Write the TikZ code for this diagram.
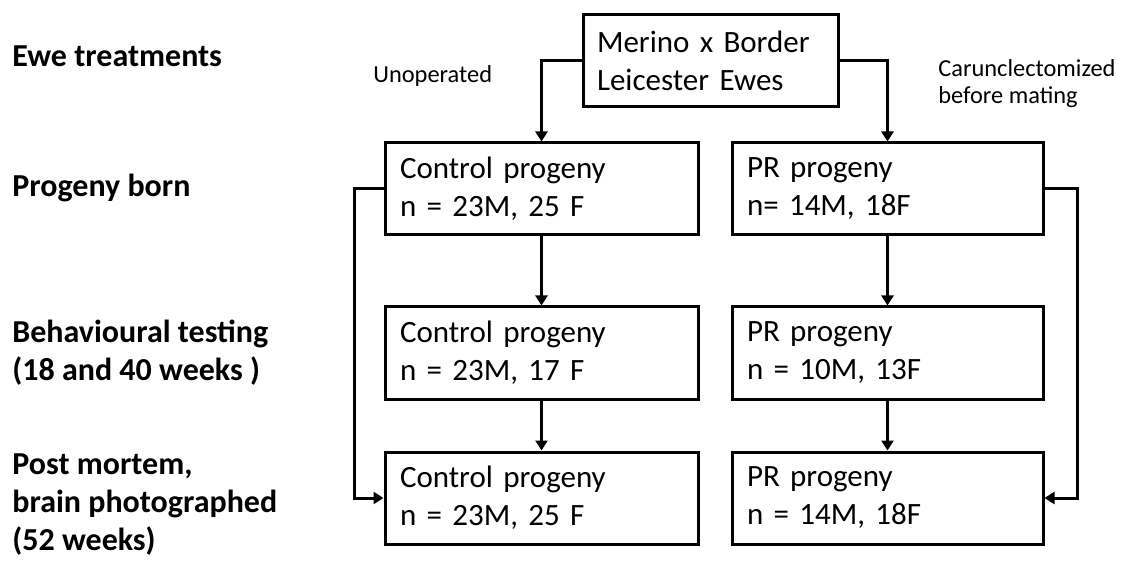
\documentclass[tikz,border=0pt]{standalone}
\usepackage{fontspec}
\setmainfont{Carlito}
\usetikzlibrary{arrows.meta}
\begin{document}
\begin{tikzpicture}[x=0.5pt,y=-0.5pt,
  box/.style={draw,line width=1.5pt,align=left,text width=#1,inner xsep=7.5pt,inner ysep=0pt,minimum height=46pt,font=\fontsize{15.5}{19}\selectfont},
  lab/.style={anchor=base west,align=left,inner sep=0pt,font=\bfseries\fontsize{16}{19}\selectfont},
  small/.style={anchor=base west,align=left,inner sep=0pt,font=\fontsize{12.2}{13.5}\selectfont},
  arr/.style={line width=1.5pt,-{Triangle[width=6pt,length=5pt]}}
]
\useasboundingbox (0,0) rectangle (1125,561);
% boxes
\node[box=113.5pt,inner xsep=7pt] (top) at (710.5,60.5) {Merino x Border\\Leicester Ewes};
\node[box=141.5pt] (c1) at (541.5,189) {Control progeny\\n = 23M, 25 F};
\node[box=140.5pt] (p1) at (887.5,189) {PR progeny\\n= 14M, 18F};
\node[box=141.5pt] (c2) at (541.5,353) {Control progeny\\n = 23M, 17 F};
\node[box=140.5pt] (p2) at (887.5,353) {PR progeny\\n = 10M, 13F};
\node[box=141.5pt] (c3) at (541.5,498) {Control progeny\\n = 23M, 25 F};
\node[box=140.5pt] (p3) at (887.5,498) {PR progeny\\n = 14M, 18F};
% row labels (anchored at the baseline of their last line)
\node[lab] (l1) at (12,67) {Ewe treatments};
\node[lab] (l2) at (12,197) {Progeny born};
\node[lab] (l3) at (12,380) {Behavioural testing\\(18 and 40 weeks )};
\node[lab] (l4) at (12,550) {Post mortem,\\brain photographed\\(52 weeks)};
% branch labels
\node[small] (unop) at (373,83) {Unoperated};
\node[small] (car) at (938,104) {Carunclectomized\\before mating};
% connectors
\coordinate (lx) at (354,0);
\coordinate (rx) at (1077,0);
\draw[arr] (top.west) -| (c1.north);
\draw[arr] (top.east) -| (p1.north);
\draw[arr] (c1.south) -- (c2.north);
\draw[arr] (c2.south) -- (c3.north);
\draw[arr] (p1.south) -- (p2.north);
\draw[arr] (p2.south) -- (p3.north);
\draw[arr] (c1.west) -- (c1.west -| lx) |- (c3.west);
\draw[arr] (p1.east) -- (p1.east -| rx) |- (p3.east);
\end{tikzpicture}
\end{document}
